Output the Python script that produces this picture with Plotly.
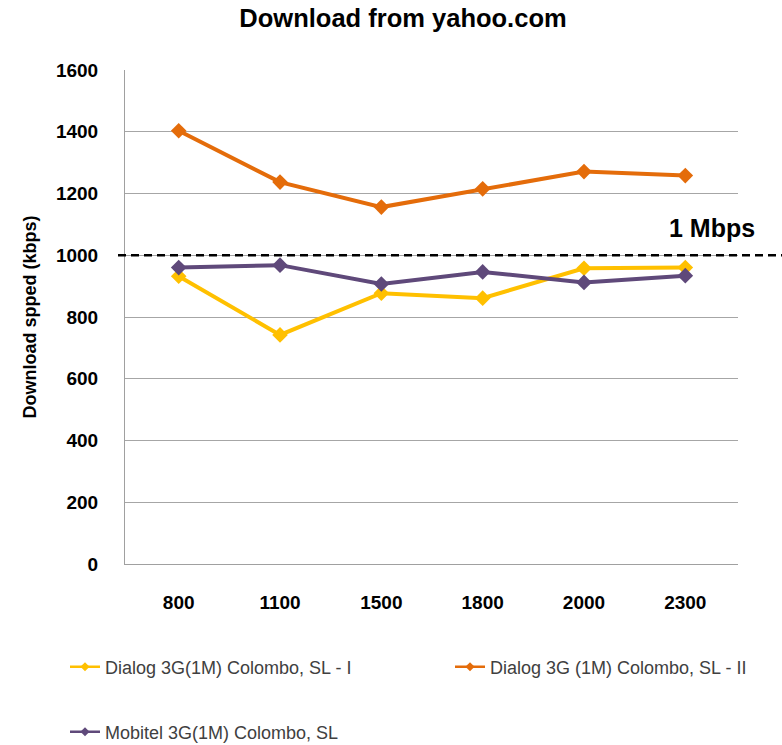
import plotly.graph_objects as go

categories = ["800", "1100", "1500", "1800", "2000", "2300"]
dialog_1 = [932, 742, 877, 861, 958, 960]
dialog_2 = [1403, 1237, 1156, 1215, 1271, 1258]
mobitel = [960, 968, 907, 946, 912, 934]
names = ["Dialog 3G(1M) Colombo, SL - I",
         "Dialog 3G (1M) Colombo, SL - II",
         "Mobitel 3G(1M) Colombo, SL"]
colors = ["#FFC000", "#E46C0A", "#5F497A"]
threshold = 1000
threshold_label = "1 Mbps"
y_ticks = [0, 200, 400, 600, 800, 1000, 1200, 1400, 1600]

W, H = 782, 745
L, R, T, B = 125, 44, 70, 181
FONT = "Liberation Sans, Arial, sans-serif"

fig = go.Figure()
series = [dialog_1, dialog_2, mobitel]
legends = ["legend", "legend2", "legend3"]
for vals, nm, col, lg in zip(series, names, colors, legends):
    fig.add_trace(go.Scatter(
        x=categories, y=vals, name=nm, mode="lines+markers",
        line=dict(color=col, width=4),
        marker=dict(symbol="diamond", size=12, color=col),
        legend=lg, showlegend=False, legendgroup=nm,
    ))
    # legend key (thin line, small marker) as in the reference
    fig.add_trace(go.Scatter(
        x=[None], y=[None], name=nm, mode="lines+markers",
        line=dict(color=col, width=2.5),
        marker=dict(symbol="diamond", size=7, color=col),
        legend=lg, showlegend=True, legendgroup=nm, hoverinfo="skip",
    ))

fig.add_shape(type="line", xref="paper", yref="y",
              x0=(118 - L) / (W - L - R), x1=(W - L) / (W - L - R),
              y0=threshold, y1=threshold,
              line=dict(color="black", width=2.5, dash="8px,5px"))
fig.add_annotation(text=threshold_label, xref="paper", yref="y",
                   x=(757 - L) / (W - L - R), y=threshold,
                   xanchor="right", yanchor="middle", yshift=27,
                   showarrow=False,
                   font=dict(family=FONT, size=25, color="black", weight="bold"))

leg_common = dict(orientation="h", xref="container", yref="container",
                  xanchor="left", yanchor="middle", bgcolor="rgba(0,0,0,0)",
                  font=dict(family=FONT, size=18, color="#404040"))
fig.update_layout(
    width=W, height=H,
    showlegend=True,
    margin=dict(l=L, r=R, t=T, b=B),
    paper_bgcolor="white", plot_bgcolor="white",
    title=dict(text="Download from yahoo.com", x=403 / W, xanchor="center",
               xref="container", y=1 - 18 / H, yref="container", yanchor="middle",
               font=dict(family=FONT, size=25.5, color="black", weight="bold")),
    xaxis=dict(type="category", range=[-0.53, 5.52], showgrid=False, showline=True,
               linecolor="#A0A0A0", linewidth=1, ticks="",
               ticklabelstandoff=21,
               tickfont=dict(family=FONT, size=19, color="black", weight="bold")),
    yaxis=dict(range=[0, 1600], tickvals=y_ticks, showgrid=True,
               gridcolor="#A6A6A6", gridwidth=1, showline=True,
               linecolor="#A0A0A0", linewidth=1, ticks="", zeroline=False,
               ticklabelstandoff=22,
               tickfont=dict(family=FONT, size=19, color="black", weight="bold"),
               title=dict(text="Download spped (kbps)", standoff=14,
                          font=dict(family=FONT, size=18, color="black", weight="bold"))),
    legend=dict(x=65 / W, y=1 - 667 / H, **leg_common),
    legend2=dict(x=450 / W, y=1 - 667 / H, **leg_common),
    legend3=dict(x=65 / W, y=1 - 732 / H, **leg_common),
)

fig.write_html("out.html", config={"displayModeBar": False},
               post_script="document.body.style.margin='0';")
